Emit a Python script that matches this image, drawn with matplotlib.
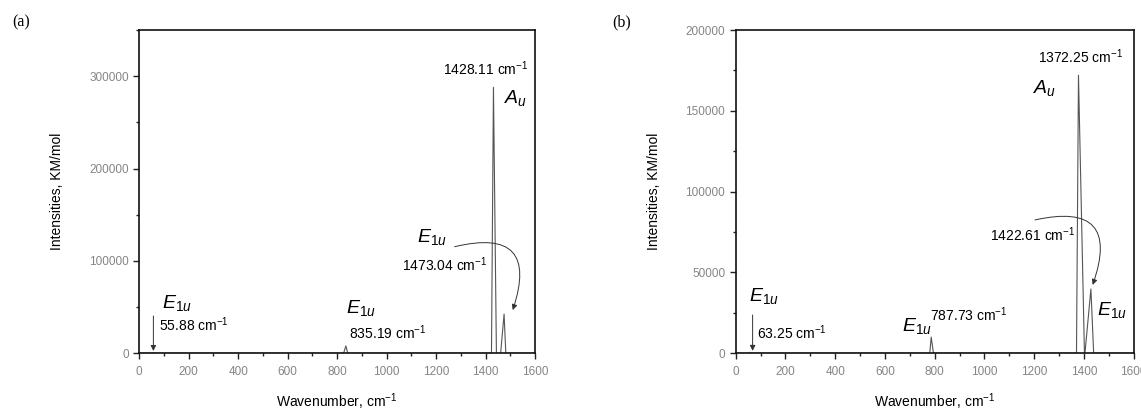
import matplotlib
matplotlib.use("Agg")
import matplotlib.pyplot as plt
from matplotlib.ticker import MultipleLocator

plt.rcParams['font.family'] = ['Liberation Sans', 'DejaVu Sans']
plt.rcParams['mathtext.fontset'] = 'custom'
plt.rcParams['mathtext.rm'] = 'Liberation Sans'
plt.rcParams['mathtext.it'] = 'Liberation Sans:italic'
plt.rcParams['mathtext.bf'] = 'Liberation Sans:bold'

# ---------------- data ----------------
# panel (a): spectrum polyline
spec_a_x = [0, 50, 55.88, 62, 826, 835.19, 843, 1424, 1432, 1444, 1461, 1475, 1482, 1600]
spec_a_y = [0, 0, 400, 0, 0, 8000, 0, 0, 288000, 0, 0, 42500, 0, 0]
# panel (b): spectrum polyline
spec_b_x = [0, 58, 63.25, 69, 780, 786, 795, 1370, 1378, 1402, 1404, 1428, 1439, 1600]
spec_b_y = [0, 0, 300, 0, 0, 10000, 0, 0, 172000, 0, 0, 39800, 0, 0]

xlim = (0, 1600)
ylim_a = (0, 350000)
ylim_b = (0, 200000)
xticks = [0, 200, 400, 600, 800, 1000, 1200, 1400, 1600]
yticks_a = [0, 100000, 200000, 300000]
yticks_b = [0, 50000, 100000, 150000, 200000]

freq_a = ["55.88", "835.19", "1428.11", "1473.04"]
freq_b = ["63.25", "787.73", "1372.25", "1422.61"]

# ---------------- figure ----------------
W, H = 1141, 413
fig = plt.figure(figsize=(W / 100, H / 100), dpi=100)
ax_a = fig.add_axes([139.3 / W, (H - 353.3) / H, (535 - 139.3) / W, (353.3 - 30) / H])
ax_b = fig.add_axes([735.7 / W, (H - 353.3) / H, (1133.7 - 735.7) / W, (353.3 - 30) / H])

tick_grey = '#858585'
line_col = '#555555'

for ax, xs, ys, ylim, yticks, ymin in [
        (ax_a, spec_a_x, spec_a_y, ylim_a, yticks_a, 50000),
        (ax_b, spec_b_x, spec_b_y, ylim_b, yticks_b, 25000)]:
    ax.plot(xs, ys, color=line_col, lw=0.8)
    ax.set_xlim(*xlim)
    ax.set_ylim(*ylim)
    ax.set_xticks(xticks)
    ax.set_yticks(yticks)
    ax.set_yticklabels([str(v) for v in yticks])
    ax.xaxis.set_minor_locator(MultipleLocator(100))
    ax.yaxis.set_minor_locator(MultipleLocator(ymin))
    ax.tick_params(which='major', direction='out', length=4, width=1.0,
                   labelsize=8.5, labelcolor=tick_grey, color='#222222')
    ax.tick_params(which='minor', direction='out', length=2.5, width=1.0, color='#222222')
    ax.tick_params(axis='x', pad=5)
    for s in ax.spines.values():
        s.set_linewidth(1.2)
        s.set_color('#111111')
    ax.set_xlabel('Wavenumber, cm$^{-1}$', fontsize=10, labelpad=10)
    ax.set_ylabel('Intensities, KM/mol', fontsize=10, labelpad=18)

fs_num = 10
fs_sym = 14
arrow_kw = dict(arrowstyle='-|>', color='#333333', lw=0.7, mutation_scale=8,
                shrinkA=0, shrinkB=0)

# ---- panel (a) annotations ----
ax_a.text(1402, 308400, freq_a[2] + ' cm$^{-1}$', fontsize=fs_num, ha='center', va='center')
ax_a.text(1473, 276300, '$A_u$', fontsize=fs_sym, ha='left', va='center')
ax_a.text(1122, 125700, '$E_{1u}$', fontsize=fs_sym, ha='left', va='center')
ax_a.text(1236, 95600, freq_a[3] + ' cm$^{-1}$', fontsize=fs_num, ha='center', va='center')
ax_a.annotate('', xy=(1510, 46800), xytext=(1275, 115400),
              arrowprops=dict(connectionstyle='arc3,rad=-0.9', **arrow_kw))
ax_a.text(90, 54000, '$E_{1u}$', fontsize=fs_sym, ha='left', va='center')
ax_a.text(78, 30600, freq_a[0] + ' cm$^{-1}$', fontsize=fs_num, ha='left', va='center')
ax_a.annotate('', xy=(57, 2500), xytext=(57, 40400), arrowprops=dict(**arrow_kw))
ax_a.text(836, 49000, '$E_{1u}$', fontsize=fs_sym, ha='left', va='center')
ax_a.text(847, 22000, freq_a[1] + ' cm$^{-1}$', fontsize=fs_num, ha='left', va='center')

# ---- panel (b) annotations ----
ax_b.text(1385, 183500, freq_b[2] + ' cm$^{-1}$', fontsize=fs_num, ha='center', va='center')
ax_b.text(1194, 164200, '$A_u$', fontsize=fs_sym, ha='left', va='center')
ax_b.text(1192, 73200, freq_b[3] + ' cm$^{-1}$', fontsize=fs_num, ha='center', va='center')
ax_b.annotate('', xy=(1435, 42300), xytext=(1203, 82500),
              arrowprops=dict(connectionstyle='arc3,rad=-0.9', **arrow_kw))
ax_b.text(1452, 27000, '$E_{1u}$', fontsize=fs_sym, ha='left', va='center')
ax_b.text(52, 35500, '$E_{1u}$', fontsize=fs_sym, ha='left', va='center')
ax_b.annotate('', xy=(68, 1500), xytext=(68, 23700), arrowprops=dict(**arrow_kw))
ax_b.text(84, 12600, freq_b[0] + ' cm$^{-1}$', fontsize=fs_num, ha='left', va='center')
ax_b.text(670, 17000, '$E_{1u}$', fontsize=fs_sym, ha='left', va='center')
ax_b.text(782, 23700, freq_b[1] + ' cm$^{-1}$', fontsize=fs_num, ha='left', va='center')

# panel letters
fig.text(12 / W, 1 - 22 / H, '(a)', fontsize=11.5, family='Liberation Serif', va='center', ha='left')
fig.text(612 / W, 1 - 22 / H, '(b)', fontsize=11.5, family='Liberation Serif', va='center', ha='left')

fig.savefig('out.png', dpi=100)
